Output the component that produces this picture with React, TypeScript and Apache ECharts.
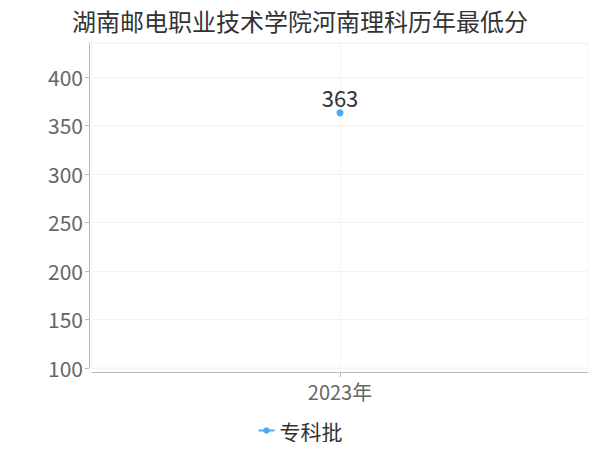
import React, { useEffect, useRef } from "react";
import * as echarts from "echarts";

const titleText = "湖南邮电职业技术学院河南理科历年最低分";
const categories = ["2023年"];
const seriesName = "专科批";
const seriesValues = [363];
const yMin = 100;
const yMax = 435;
const yInterval = 50;

export default function App() {
  const ref = useRef<HTMLDivElement>(null);
  useEffect(() => {
    if (!ref.current) return;
    const chart = echarts.init(ref.current, null, { renderer: "svg" });
    const font = "'Noto Sans CJK SC', 'Noto Sans', sans-serif";
    chart.setOption({
      animation: false,
      textStyle: { fontFamily: font },
      title: {
        text: titleText,
        left: "center",
        top: 3,
        textStyle: { fontSize: 24, fontWeight: "normal", color: "#333", fontFamily: font },
      },
      legend: {
        bottom: 4,
        left: "center",
        itemWidth: 16,
        itemHeight: 8,
        itemGap: 10,
        textStyle: { fontSize: 21, color: "#333", fontFamily: font },
        data: [seriesName],
      },
      grid: {
        left: 92,
        right: 12,
        top: 43,
        bottom: 82,
        show: true,
        borderColor: "#f3f3f3",
        borderWidth: 1,
      },
      xAxis: {
        type: "category",
        data: categories,
        offset: 4,
        axisLine: { show: true, lineStyle: { color: "#bbb" } },
        axisTick: { show: true, alignWithLabel: true, lineStyle: { color: "#bbb" } },
        axisLabel: { fontSize: 20, color: "#666", margin: 9, fontFamily: font },
        splitLine: { show: true, alignWithLabel: true, lineStyle: { color: "#f3f3f3" } },
      },
      yAxis: {
        type: "value",
        min: yMin,
        max: yMax,
        interval: yInterval,
        offset: 3,
        axisLine: { show: true, lineStyle: { color: "#bbb" } },
        axisTick: { show: true, length: 4, lineStyle: { color: "#bbb" } },
        axisLabel: {
          fontSize: 21,
          color: "#666",
          margin: 6,
          fontFamily: font,
          showMaxLabel: false,
        },
        splitLine: { show: true, lineStyle: { color: "#f3f3f3" } },
      },
      series: [
        {
          name: seriesName,
          type: "line",
          data: seriesValues,
          symbol: "circle",
          symbolSize: 7,
          itemStyle: { color: "#4aa8f7" },
          lineStyle: { color: "#4aa8f7", width: 2 },
          label: {
            show: true,
            position: "top",
            distance: 1,
            fontSize: 22,
            color: "#333",
            fontFamily: font,
          },
        },
      ],
    });
    return () => chart.dispose();
  }, []);
  return <div ref={ref} style={{ width: 600, height: 450, margin: -8 }} />;
}
